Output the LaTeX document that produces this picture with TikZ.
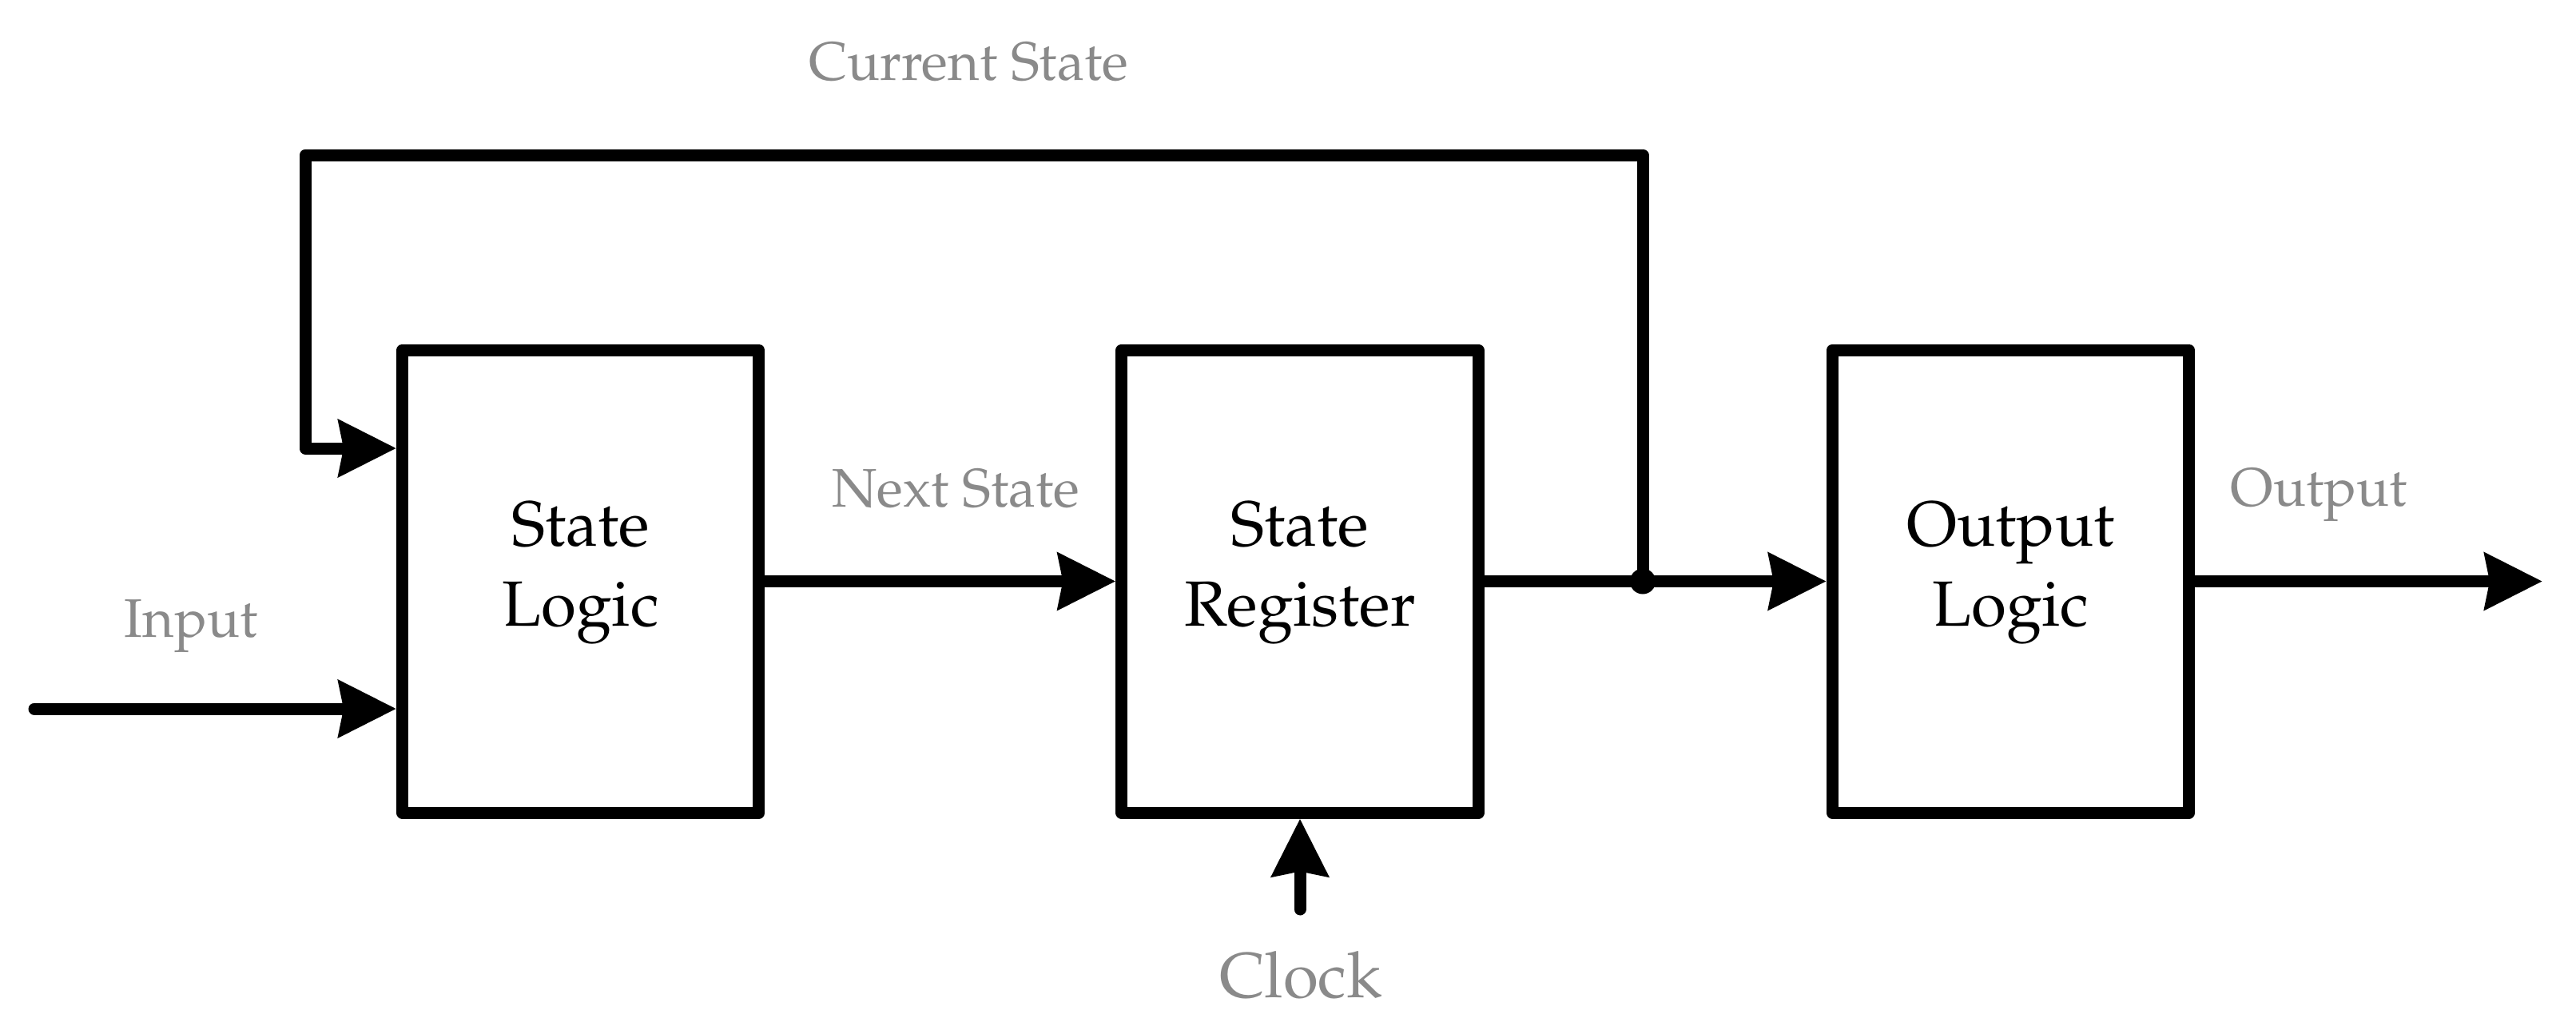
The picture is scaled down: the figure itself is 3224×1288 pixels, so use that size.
\documentclass[tikz,border=0pt]{standalone}
\usepackage[T1]{fontenc}
\renewcommand{\rmdefault}{ppl}
\usetikzlibrary{arrows.meta}
\definecolor{lblgray}{HTML}{8A8A8A}
\tikzset{
  blockbox/.style={draw, line width=3.75pt, line join=round, minimum width=111.6pt, minimum height=144.75pt, inner sep=0pt, align=center, text height=40pt, text depth=11.8pt, font=\fontsize{20}{25}\selectfont},
  wire/.style={line width=3.75pt, line cap=round, line join=round},
  arr/.style={wire, -{Stealth[length=18pt, width=17.5pt, inset=1.5pt]}},
  lbl/.style={text=lblgray, anchor=base, inner sep=0pt, font=\fontsize{17}{20}\selectfont},
  biglbl/.style={lbl, font=\fontsize{20}{24}\selectfont}
}
\begin{document}
\begin{tikzpicture}[x=0.25pt, y=-0.25pt]
\useasboundingbox (0,0) rectangle (3224,1288);
\node[blockbox] (SL) at (726.75,727.5) {State\\Logic};
\node[blockbox] (SR) at (1627,727.5) {State\\Register};
\node[blockbox] (OL) at (2516.5,727.5) {Output\\Logic};
\coordinate (J) at (2056,727.5);
\coordinate (fbL) at (382,194);
\coordinate (fbIn) at (0,561);
\coordinate (in) at (43,887);
\coordinate (out) at (3182,727.5);
\coordinate (clk) at (1627,1138);
\draw[arr] (SL.east) -- (SR.west);
\draw[arr] (SR.east) -- (OL.west);
\draw[arr] (J) |- (fbL) |- (SL.west |- fbIn);
\draw[arr] (in) -- (SL.west |- in);
\draw[arr] (OL.east) -- (out);
\draw[arr] (clk) -- (SR.south);
\fill (J) circle (16);
\node[lbl] (lcur) at (1212,100) {Current State};
\node[lbl] (lnext) at (1196,634) {Next State};
\node[lbl] (lin) at (239,797) {Input};
\node[lbl] (lout) at (2902,633) {Output};
\node[biglbl] (lclk) at (1628,1248) {Clock};
\end{tikzpicture}
\end{document}
